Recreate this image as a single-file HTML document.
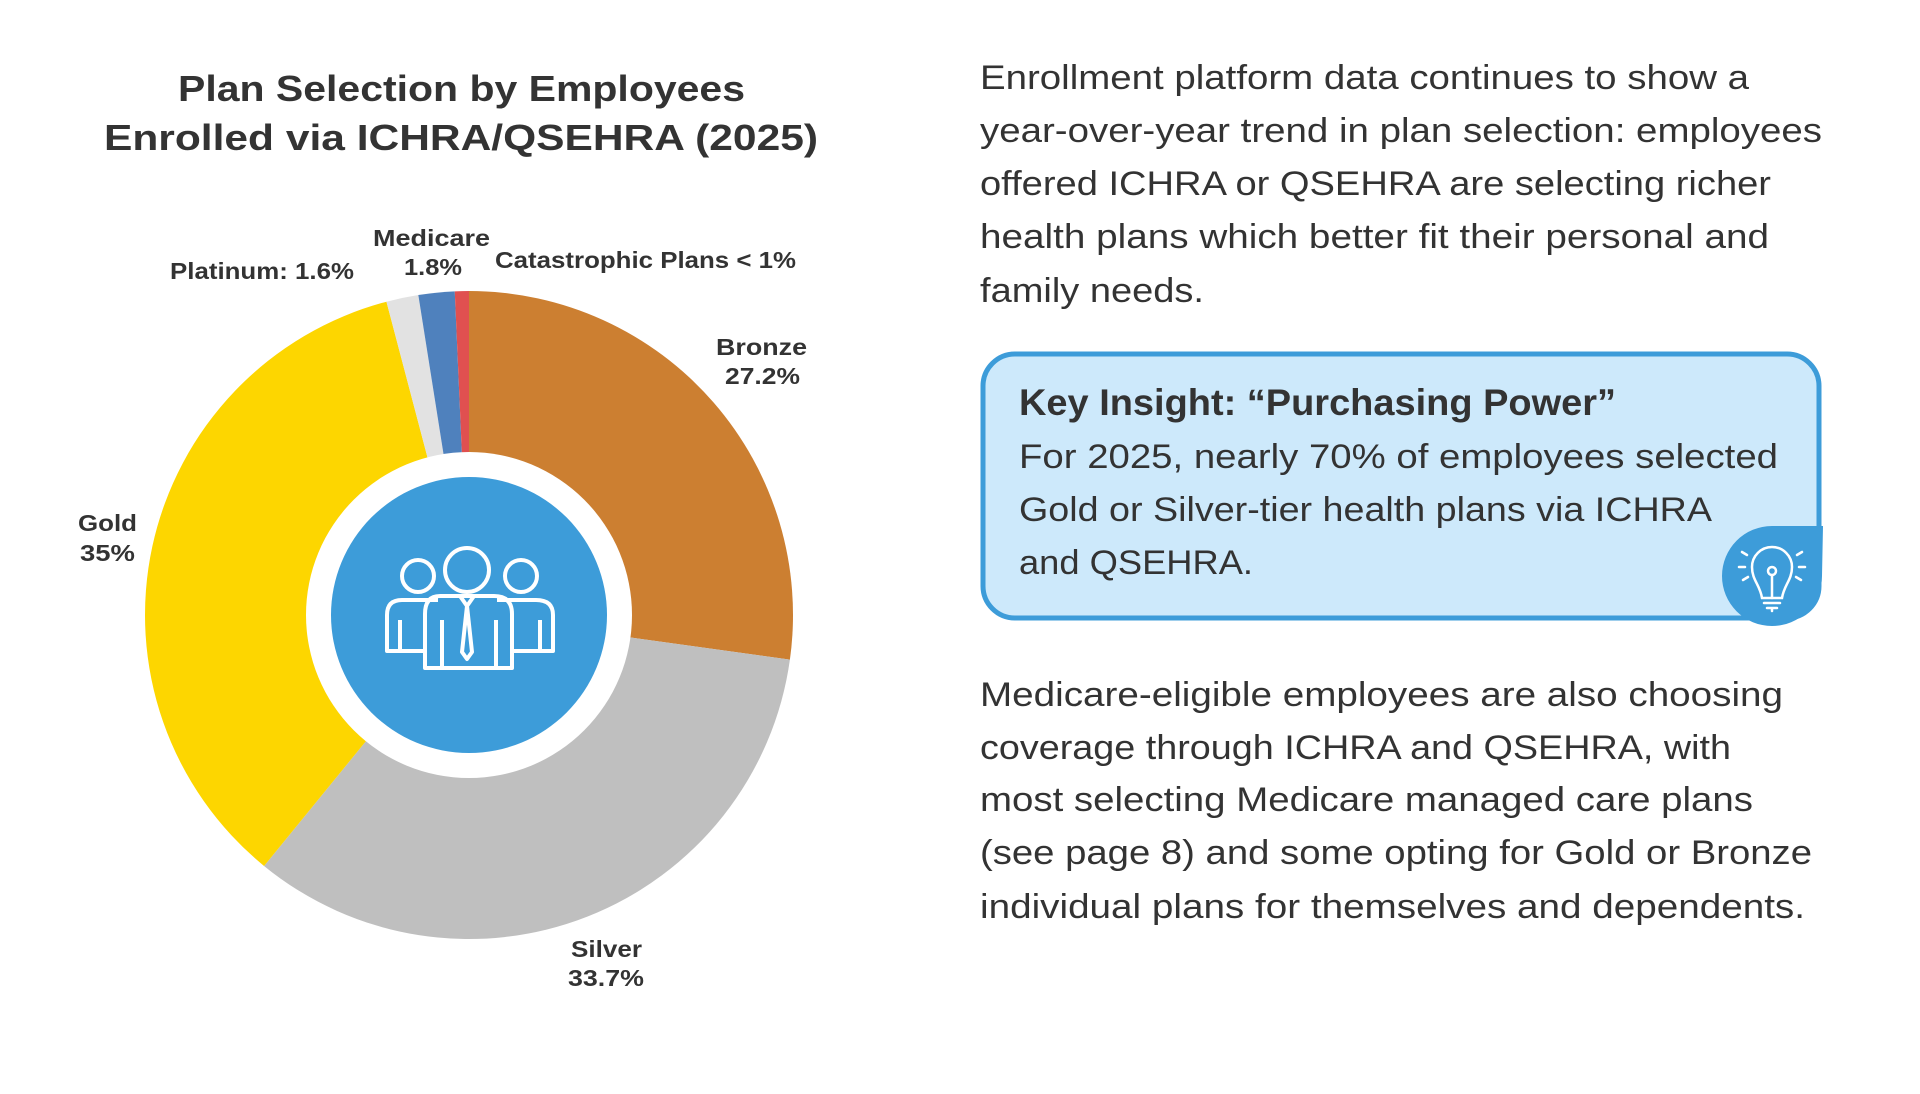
<!DOCTYPE html>
<html><head><meta charset="utf-8"><style>
html,body{margin:0;padding:0;background:#fff}
svg{display:block}
text{font-family:"Liberation Sans",sans-serif;fill:#333}
.b{font-weight:bold}
</style></head><body>
<svg width="1920" height="1094" viewBox="0 0 1920 1094">
<g>
<text class="b" x="178" y="101" font-size="36" textLength="567" lengthAdjust="spacingAndGlyphs">Plan Selection by Employees</text>
<text class="b" x="104" y="150" font-size="36" textLength="714" lengthAdjust="spacingAndGlyphs">Enrolled via ICHRA/QSEHRA (2025)</text>
</g>
<g id="donut"></g>
<circle cx="469" cy="615" r="163" fill="#fff"/>
<circle cx="469" cy="615" r="138" fill="#3d9cd9"/>
<g fill="none" stroke="#fff" stroke-width="4" stroke-linejoin="round">
<circle cx="418" cy="576" r="16"/><circle cx="521" cy="576" r="16"/><circle cx="467" cy="570" r="22"/>
<path d="M438,600 H402 Q387,600 387,615 V651 H425"/>
<path d="M497,600 H536 Q553,600 553,615 V651 H513"/>
<path d="M440,596 H494 Q512,596 512,614 V668 H425 V614 Q425,596 440,596 Z"/>
<path d="M400,620 V651 M540,620 V651 M442,620 V668 M496,620 V668"/>
<path d="M460,596 L467,606 L474,596 M467,606 L462,652 L467,659 L472,652 Z"/>
</g>
<g id="labels">
<text class="b" x="373" y="246" font-size="23" textLength="117" lengthAdjust="spacingAndGlyphs">Medicare</text>
<text class="b" x="404" y="275" font-size="23" textLength="58" lengthAdjust="spacingAndGlyphs">1.8%</text>
<text class="b" x="170" y="279" font-size="23" textLength="184" lengthAdjust="spacingAndGlyphs">Platinum: 1.6%</text>
<text class="b" x="495" y="268" font-size="23" textLength="301" lengthAdjust="spacingAndGlyphs">Catastrophic Plans &lt; 1%</text>
<text class="b" x="716" y="355" font-size="23" textLength="91" lengthAdjust="spacingAndGlyphs">Bronze</text>
<text class="b" x="725" y="384" font-size="23" textLength="75" lengthAdjust="spacingAndGlyphs">27.2%</text>
<text class="b" x="78" y="531" font-size="23" textLength="59" lengthAdjust="spacingAndGlyphs">Gold</text>
<text class="b" x="80" y="561" font-size="23" textLength="55" lengthAdjust="spacingAndGlyphs">35%</text>
<text class="b" x="571" y="957" font-size="23" textLength="71" lengthAdjust="spacingAndGlyphs">Silver</text>
<text class="b" x="568" y="986" font-size="23" textLength="76" lengthAdjust="spacingAndGlyphs">33.7%</text>
</g>
<g font-size="34">
<text x="980" y="89" textLength="769" lengthAdjust="spacingAndGlyphs">Enrollment platform data continues to show a</text>
<text x="980" y="142" textLength="842" lengthAdjust="spacingAndGlyphs">year-over-year trend in plan selection: employees</text>
<text x="980" y="195" textLength="791" lengthAdjust="spacingAndGlyphs">offered ICHRA or QSEHRA are selecting richer</text>
<text x="980" y="248" textLength="789" lengthAdjust="spacingAndGlyphs">health plans which better fit their personal and</text>
<text x="980" y="302" textLength="224" lengthAdjust="spacingAndGlyphs">family needs.</text>
</g>
<g>
<rect x="983" y="354" width="836" height="264" rx="32" fill="#cde9fb" stroke="#3d9cd9" stroke-width="5"/>
<text class="b" x="1019" y="415" font-size="37" textLength="597" lengthAdjust="spacingAndGlyphs">Key Insight: “Purchasing Power”</text>
<text x="1019" y="468" font-size="34" textLength="759" lengthAdjust="spacingAndGlyphs">For 2025, nearly 70% of employees selected</text>
<text x="1019" y="521" font-size="34" textLength="693" lengthAdjust="spacingAndGlyphs">Gold or Silver-tier health plans via ICHRA</text>
<text x="1019" y="574" font-size="34" textLength="234" lengthAdjust="spacingAndGlyphs">and QSEHRA.</text>
<g>
<path d="M1823,526 H1772 A50,50 0 1 0 1822,576 Z" fill="#3d9cd9"/>
<g fill="none" stroke="#fff" stroke-width="2.5" stroke-linecap="round">
<path d="M1762,598 C1760,585 1752,580 1752,567 A20,20 0 0 1 1792,567 C1792,580 1784,585 1782,598 Z"/>
<circle cx="1772" cy="571" r="4"/><path d="M1772,575 V598 M1764,603 H1780 M1767,608 H1777 M1772,608 V611"/>
<path d="M1742,552 L1747,555 M1739,567 H1745 M1743,580 L1748,577 M1802,552 L1797,555 M1805,567 H1799 M1801,580 L1796,577"/>
</g></g>
</g>
<g font-size="34">
<text x="980" y="706" textLength="803" lengthAdjust="spacingAndGlyphs">Medicare-eligible employees are also choosing</text>
<text x="980" y="759" textLength="751" lengthAdjust="spacingAndGlyphs">coverage through ICHRA and QSEHRA, with</text>
<text x="980" y="811" textLength="773" lengthAdjust="spacingAndGlyphs">most selecting Medicare managed care plans</text>
<text x="980" y="864" textLength="832" lengthAdjust="spacingAndGlyphs">(see page 8) and some opting for Gold or Bronze</text>
<text x="980" y="918" textLength="825" lengthAdjust="spacingAndGlyphs">individual plans for themselves and dependents.</text>
</g>
</svg>
<script>
const categories = ["Bronze","Silver","Gold","Platinum","Medicare","Catastrophic"];
const shares = [27.2, 33.7, 35, 1.6, 1.8, 0.7];
const colors = ["#cc7f31","#bfbfbf","#fdd600","#e2e2e2","#4f81bd","#e05050"];
const NS="http://www.w3.org/2000/svg";
const cx=469, cy=615, R=324;
const total=shares.reduce((a,b)=>a+b,0);
function angle(v){return v/total*2*Math.PI;}
function pt(a){return [cx+R*Math.sin(a), cy-R*Math.cos(a)];}
const g=document.getElementById('donut');
let acc=0;
shares.forEach((v,i)=>{
  const a0=angle(acc), a1=angle(acc+v); acc+=v;
  const p0=pt(a0), p1=pt(a1);
  const large=(a1-a0)>Math.PI?1:0;
  const p=document.createElementNS(NS,'path');
  p.setAttribute('d',`M${cx},${cy} L${p0[0]},${p0[1]} A${R},${R} 0 ${large} 1 ${p1[0]},${p1[1]} Z`);
  p.setAttribute('fill',colors[i]);
  
  
  g.appendChild(p);
});
</script>
</body></html>
